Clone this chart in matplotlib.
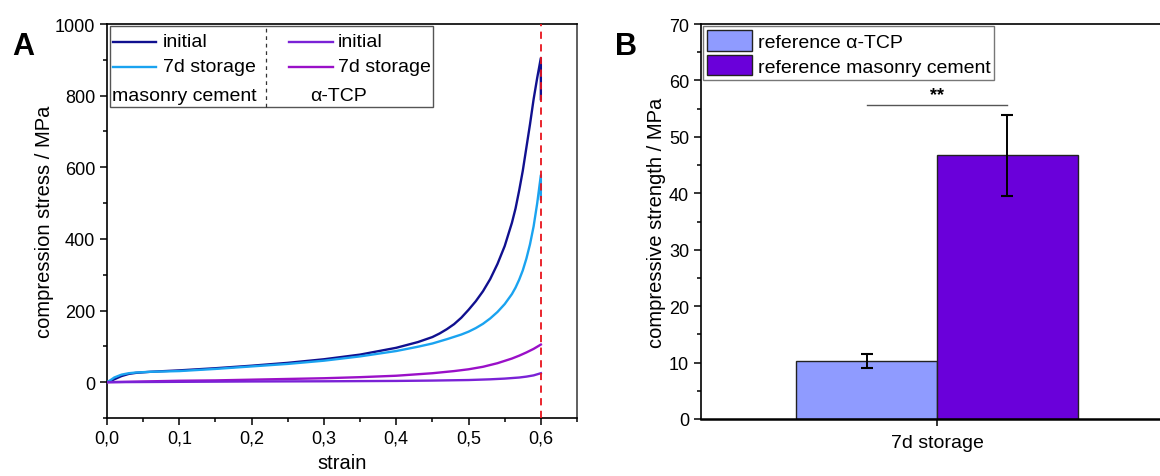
import matplotlib
matplotlib.use("Agg")
import matplotlib.pyplot as plt
from matplotlib.patches import Rectangle

plt.rcParams['font.family'] = ['Liberation Sans', 'DejaVu Sans']

# ---------------- data panel A ----------------
mc_init_strain = [0.000, 0.005, 0.010, 0.020, 0.030, 0.040, 0.060, 0.080, 0.100, 0.150,
                  0.200, 0.250, 0.300, 0.350, 0.400, 0.430, 0.450, 0.460, 0.470, 0.480,
                  0.490, 0.500, 0.510, 0.520, 0.530, 0.540, 0.550, 0.560, 0.565, 0.570,
                  0.575, 0.580, 0.585, 0.590, 0.595, 0.600, 0.600]
mc_init_stress = [0, 3, 8, 17, 23, 26, 29, 31, 33, 39,
                  46, 54, 64, 77, 96, 112, 126, 136, 148, 162,
                  180, 202, 226, 254, 288, 330, 380, 445, 485, 535,
                  590, 655, 720, 790, 850, 905, 790]

mc_7d_strain = [0.000, 0.005, 0.010, 0.020, 0.030, 0.040, 0.060, 0.080, 0.100, 0.150,
                0.200, 0.250, 0.300, 0.350, 0.400, 0.430, 0.450, 0.470, 0.490, 0.500,
                0.510, 0.520, 0.530, 0.540, 0.550, 0.560, 0.565, 0.570, 0.575, 0.580,
                0.585, 0.590, 0.595, 0.600, 0.600]
mc_7d_stress = [0, 6, 13, 21, 25, 27, 29, 30, 31, 37,
                44, 51, 60, 72, 87, 99, 108, 120, 133, 141,
                151, 163, 178, 196, 218, 246, 264, 286, 312, 345,
                385, 435, 500, 578, 511]

tcp_init_strain = [0.00, 0.10, 0.20, 0.30, 0.40, 0.45, 0.50, 0.53, 0.55, 0.57, 0.58,
                   0.59, 0.595, 0.60]
tcp_init_stress = [0, 1, 2, 2.5, 3.5, 4.5, 6, 8, 10, 13, 15.5, 19, 22, 25]

tcp_7d_strain = [0.00, 0.05, 0.10, 0.15, 0.20, 0.25, 0.30, 0.35, 0.40, 0.45, 0.48, 0.50,
                 0.52, 0.54, 0.56, 0.57, 0.58, 0.59, 0.60]
tcp_7d_stress = [0, 2, 4, 5, 7, 9, 11, 14, 18, 25, 31, 36, 43, 53, 66, 74, 83, 93, 105]

strain_limit = 0.6

xticks_a = [0.0, 0.1, 0.2, 0.3, 0.4, 0.5, 0.6]
xticklabels_a = ["0,0", "0,1", "0,2", "0,3", "0,4", "0,5", "0,6"]
yticks_a = [0, 200, 400, 600, 800, 1000]

# ---------------- data panel B ----------------
group_label = ["7d storage"]
series_b = ["reference \u03b1-TCP", "reference masonry cement"]
means_b = [10.3, 46.7]
errs_b = [1.2, 7.2]
sig_level = 55.7
sig_text = "**"

# ---------------- styles ----------------
c_mc_init = "#10108F"
c_mc_7d = "#1AA3F0"
c_tcp_init = "#7A22D6"
c_tcp_7d = "#9A10C8"
c_bar = ["#8F9BFF", "#6A00DA"]

W, H = 1160, 477
fig = plt.figure(figsize=(W / 100, H / 100), dpi=100)

def px_axes(l, r, t, b):
    return fig.add_axes([l / W, 1 - b / H, (r - l) / W, (b - t) / H])

# ---------------- Panel A ----------------
axA = px_axes(107, 577, 25, 419)
lw = 1.7
axA.plot(mc_init_strain, mc_init_stress, color=c_mc_init, lw=lw, zorder=3)
axA.plot(mc_7d_strain, mc_7d_stress, color=c_mc_7d, lw=lw, zorder=3)
axA.plot(tcp_7d_strain, tcp_7d_stress, color=c_tcp_7d, lw=lw, zorder=3)
axA.plot(tcp_init_strain, tcp_init_stress, color=c_tcp_init, lw=lw, zorder=3)
axA.axvline(strain_limit, color="#E8141C", lw=1.3, ls=(0, (4, 3)), zorder=4)

axA.set_xlim(0, 0.65)
axA.set_ylim(-100, 1000)
axA.set_xticks(xticks_a)
axA.set_xticklabels(xticklabels_a)
axA.set_xticks([0.05, 0.15, 0.25, 0.35, 0.45, 0.55, 0.65], minor=True)
axA.set_yticks(yticks_a)
axA.set_yticks([-100, 100, 300, 500, 700, 900], minor=True)
axA.set_xlabel("strain", fontsize=14.5)
axA.set_ylabel("compression stress / MPa", fontsize=14.5)
axA.xaxis.set_label_coords(0.5, -0.09)
axA.yaxis.set_label_coords(-0.113, 0.5)

for s in ["left", "bottom", "top"]:
    axA.spines[s].set_linewidth(1.2)
    axA.spines[s].set_color("black")
axA.spines["right"].set_linewidth(1.2)
axA.spines["right"].set_color("#444444")

axA.tick_params(which="both", direction="out", width=1.1, labelsize=13, top=False, right=False)
axA.tick_params(which="major", length=5)
axA.tick_params(which="minor", length=3)

# custom legend A
T = axA.transAxes
axA.add_patch(Rectangle((0.0064, 0.789), 0.688, 0.206, transform=T, fill=True,
                        facecolor="white", edgecolor="#555555", lw=1.0, zorder=5))
axA.plot([0.338, 0.338], [0.789, 0.995], transform=T, color="#333333", lw=0.9,
         ls=(0, (3, 3)), zorder=6)
rows = [0.955, 0.892]
axA.plot([0.013, 0.104], [rows[0]] * 2, transform=T, color=c_mc_init, lw=lw, zorder=6)
axA.plot([0.013, 0.104], [rows[1]] * 2, transform=T, color=c_mc_7d, lw=lw, zorder=6)
axA.plot([0.387, 0.481], [rows[0]] * 2, transform=T, color=c_tcp_init, lw=lw, zorder=6)
axA.plot([0.387, 0.481], [rows[1]] * 2, transform=T, color=c_tcp_7d, lw=lw, zorder=6)
kw = dict(transform=T, fontsize=14, va="center", ha="left", zorder=7)
axA.text(0.119, rows[0], "initial", **kw)
axA.text(0.119, rows[1], "7d storage", **kw)
axA.text(0.010, 0.818, "masonry cement", **kw)
axA.text(0.491, rows[0], "initial", **kw)
axA.text(0.491, rows[1], "7d storage", **kw)
axA.text(0.432, 0.818, "\u03b1-TCP", **kw)

# ---------------- Panel B ----------------
axB = px_axes(701, 1173, 25, 420)
bw = 0.5
xpos = [-bw / 2, bw / 2]
for i in range(2):
    axB.bar(xpos[i], means_b[i], width=bw, color=c_bar[i], edgecolor="#222222", lw=1.0,
            label=series_b[i], zorder=2)
    axB.errorbar(xpos[i], means_b[i], yerr=errs_b[i], color="black", lw=1.4,
                 capsize=4.5, capthick=1.5, zorder=3)
axB.plot(xpos, [sig_level, sig_level], color="#555555", lw=1.0)
axB.text(0, sig_level + 0.25, sig_text, ha="center", va="bottom", fontsize=13, fontweight="bold")

axB.set_xlim(-0.837, 0.837)
axB.set_ylim(0, 70)
axB.set_xticks([0])
axB.set_xticklabels(group_label)
axB.set_yticks(range(0, 71, 10))
axB.set_yticks(range(5, 70, 10), minor=True)
axB.set_ylabel("compressive strength / MPa", fontsize=14.5)
axB.yaxis.set_label_coords(-0.074, 0.5)
axB.tick_params(which="both", direction="out", width=1.1, labelsize=13)
axB.tick_params(which="major", length=5)
axB.tick_params(which="minor", length=3)
axB.tick_params(axis="x", labelsize=14, pad=6)
for s in ["left", "bottom", "top"]:
    axB.spines[s].set_linewidth(1.2)
axB.spines["bottom"].set_linewidth(1.8)
axB.spines["right"].set_visible(False)

legB = axB.legend(loc="upper left", bbox_to_anchor=(0.0, 1.0), fontsize=14, frameon=True,
                  fancybox=False, edgecolor="#555555", handlelength=2.3, handleheight=1.25,
                  handletextpad=0.3, labelspacing=0.2, borderpad=0.2, borderaxespad=0.12)
legB.get_frame().set_linewidth(1.0)

fig.text(12 / W, 1 - 55 / H, "A", fontsize=22, fontweight="bold", ha="left", va="baseline")
fig.text(615 / W, 1 - 55 / H, "B", fontsize=22, fontweight="bold", ha="left", va="baseline")

fig.savefig("out.png", dpi=100)
